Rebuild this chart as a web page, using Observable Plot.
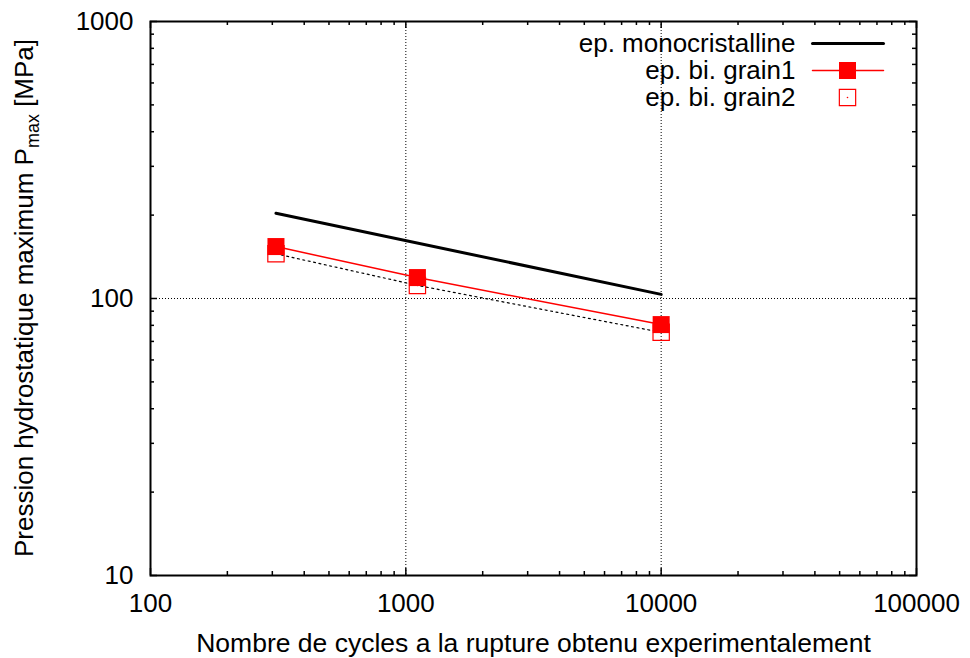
<!DOCTYPE html>
<html><head><meta charset="utf-8">
<script src="https://cdn.jsdelivr.net/npm/d3@7"></script>
<script src="https://cdn.jsdelivr.net/npm/@observablehq/plot@0.6"></script>
<style>
body{margin:0;background:#fff;}
#chart{position:relative;width:970px;height:658px;}
</style>
</head><body><div id="chart"></div>
<script>
// ---- data ----
const monoCycles = [310, 10000];
const monoPressure = [203, 103.5];
const grain1Cycles = [310, 1110, 10000];
const grain1Pressure = [154, 119, 80.5];
const grain2Cycles = [310, 1110, 10000];
const grain2Pressure = [145, 111.5, 75.5];
const xTicks = [100, 1000, 10000, 100000];
const yTicks = [10, 100, 1000];
const xGrid = [1000, 10000];
const yGrid = [100];
const minorMultipliers = [2, 3, 4, 5, 6, 7, 8, 9];
const legendLabels = ["ep. monocristalline", "ep. bi. grain1", "ep. bi. grain2"];
const xTitle = "Nombre de cycles a la rupture obtenu experimentalement";
const yTitleMain = "Pression hydrostatique maximum P";
const yTitleSub = "max";
const yTitleTail = " [MPa]";

// ---- derived tables ----
const mono = monoCycles.map((c, i) => ({c, p: monoPressure[i]}));
const grain1 = grain1Cycles.map((c, i) => ({c, p: grain1Pressure[i]}));
const grain2 = grain2Cycles.map((c, i) => ({c, p: grain2Pressure[i]}));
const xMinor = xTicks.slice(0, -1).flatMap(d => minorMultipliers.map(m => d * m));
const yMinor = yTicks.slice(0, -1).flatMap(d => minorMultipliers.map(m => d * m));

const W = 970, H = 658, mL = 150, mR = 54, mT = 21, mB = 83;
const plotW = W - mL - mR, plotH = H - mT - mB;
const FONT = "'Liberation Sans', Arial, Helvetica, sans-serif";
const majorLen = 7, minorLen = 4;
const lineShape = {draw(ctx, l) { ctx.moveTo(0, 0); ctx.lineTo(0, -l); }};

const plot = Plot.plot({
  width: W, height: H,
  marginLeft: mL, marginRight: mR, marginTop: mT, marginBottom: mB,
  style: {fontFamily: FONT, fontSize: "26px", color: "#000", background: "#fff"},
  x: {type: "log", domain: [100, 100000]},
  y: {type: "log", domain: [10, 1000]},
  marks: [
    // grid
    Plot.ruleX(xGrid, {x: d => d, stroke: "#000", strokeWidth: 1, strokeDasharray: "1,2"}),
    Plot.ruleY(yGrid, {y: d => d, stroke: "#000", strokeWidth: 1, strokeDasharray: "1,2"}),
    // inward ticks (bottom/top/left/right)
    Plot.tickX(xTicks, {x: d => d, insetTop: plotH - majorLen, stroke: "#000", strokeWidth: 1.5}),
    Plot.tickX(xTicks, {x: d => d, insetBottom: plotH - majorLen, stroke: "#000", strokeWidth: 1.5}),
    Plot.tickX(xMinor, {x: d => d, insetTop: plotH - minorLen, stroke: "#000", strokeWidth: 1.5}),
    Plot.tickX(xMinor, {x: d => d, insetBottom: plotH - minorLen, stroke: "#000", strokeWidth: 1.5}),
    Plot.tickY(yTicks, {y: d => d, insetRight: plotW - majorLen, stroke: "#000", strokeWidth: 1.5}),
    Plot.tickY(yTicks, {y: d => d, insetLeft: plotW - majorLen, stroke: "#000", strokeWidth: 1.5}),
    Plot.tickY(yMinor, {y: d => d, insetRight: plotW - minorLen, stroke: "#000", strokeWidth: 1.5}),
    Plot.tickY(yMinor, {y: d => d, insetLeft: plotW - minorLen, stroke: "#000", strokeWidth: 1.5}),
    // tick labels
    Plot.axisX(xTicks, {anchor: "bottom", tickSize: 0, tickPadding: 18, fontSize: 26, tickFormat: d => String(d), label: null}),
    Plot.axisY(yTicks, {anchor: "left", tickSize: 0, tickPadding: 17, fontSize: 26, tickFormat: d => String(d), label: null}),
    // x title
    Plot.text([xTitle], {text: d => d, frameAnchor: "bottom", lineAnchor: "bottom", dy: 76, fontSize: 26.5, fill: "#000"}),
    // series
    Plot.line(mono, {x: "c", y: "p", stroke: "#000", strokeWidth: 3}),
    Plot.line(grain1, {x: "c", y: "p", stroke: "#ff0000", strokeWidth: 1.5}),
    Plot.line(grain2, {x: "c", y: "p", stroke: "#000", strokeWidth: 1.2, strokeDasharray: "2,3.5"}),
    Plot.dot(grain2, {x: "c", y: "p", symbol: "square", r: 9.2, fill: "none", stroke: "#ff0000", strokeWidth: 1.2}),
    Plot.dot(grain2, {x: "c", y: "p", r: 0.8, fill: "#ff0000", stroke: "none"}),
    Plot.dot(grain1, {x: "c", y: "p", symbol: "square", r: 9.6, fill: "#ff0000", stroke: "none"}),
    // legend
    Plot.text([legendLabels[0]], {text: d => d, frameAnchor: "top-right", lineAnchor: "middle", textAnchor: "end", dx: -121, dy: 22, fontSize: 26, fill: "#000"}),
    Plot.text([legendLabels[1]], {text: d => d, frameAnchor: "top-right", lineAnchor: "middle", textAnchor: "end", dx: -121, dy: 49, fontSize: 26, fill: "#000"}),
    Plot.text([legendLabels[2]], {text: d => d, frameAnchor: "top-right", lineAnchor: "middle", textAnchor: "end", dx: -121, dy: 76, fontSize: 26, fill: "#000"}),
    Plot.vector([0], {frameAnchor: "top-right", dx: -104, dy: 22, rotate: 90, length: 71, anchor: "start", shape: lineShape, stroke: "#000", strokeWidth: 3}),
    Plot.vector([0], {frameAnchor: "top-right", dx: -104, dy: 49, rotate: 90, length: 71, anchor: "start", shape: lineShape, stroke: "#ff0000", strokeWidth: 1.5}),
    Plot.dot([0], {frameAnchor: "top-right", dx: -69, dy: 49, symbol: "square", r: 9.6, fill: "#ff0000", stroke: "none"}),
    Plot.dot([0], {frameAnchor: "top-right", dx: -69, dy: 76, symbol: "square", r: 9.2, fill: "none", stroke: "#ff0000", strokeWidth: 1.2}),
    Plot.dot([0], {frameAnchor: "top-right", dx: -69, dy: 76, r: 0.8, fill: "#ff0000", stroke: "none"}),
    // frame
    Plot.frame({stroke: "#000", strokeWidth: 2})
  ]
});

// y title with subscript
const svg = d3.select(plot);
const yt = svg.append("text")
  .attr("transform", `translate(33,${mT + plotH / 2}) rotate(-90)`)
  .attr("text-anchor", "middle")
  .attr("font-family", FONT)
  .attr("font-size", 26)
  .attr("fill", "#000");
yt.append("tspan").text(yTitleMain);
yt.append("tspan").attr("font-size", 18).attr("dy", 6).text(yTitleSub);
yt.append("tspan").attr("dy", -6).text(yTitleTail);

document.getElementById("chart").appendChild(plot);
</script>
</body></html>
